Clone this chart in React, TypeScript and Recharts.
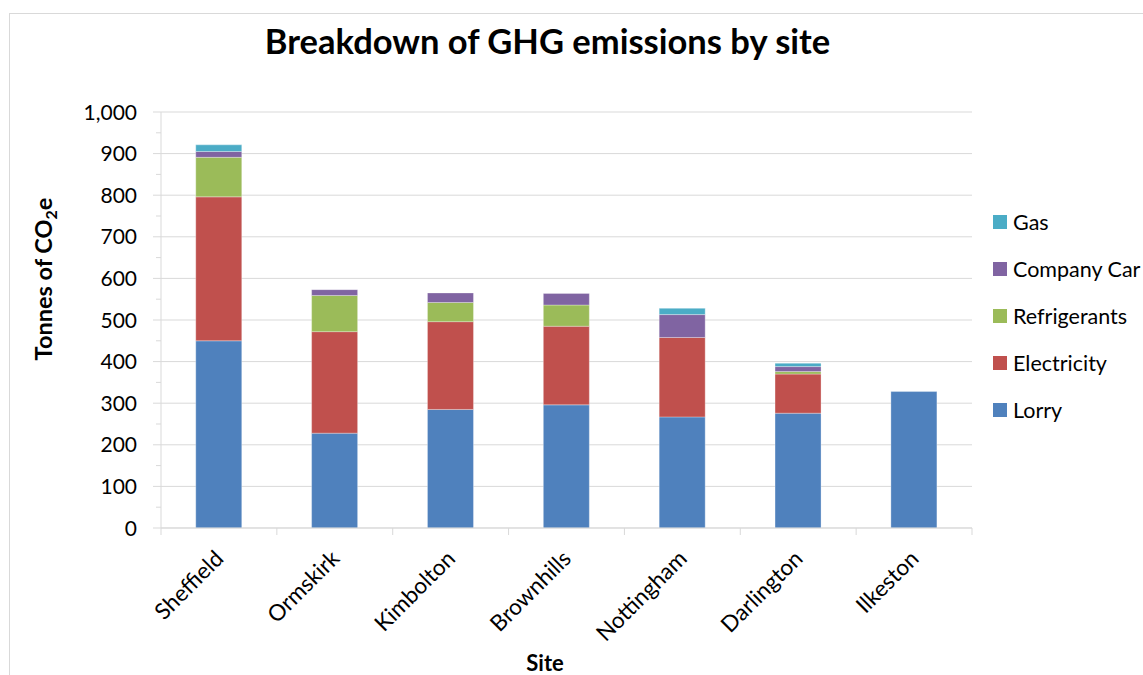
import { Bar, BarChart, CartesianGrid, XAxis, YAxis } from 'recharts';

const sites = ['Sheffield', 'Ormskirk', 'Kimbolton', 'Brownhills', 'Nottingham', 'Darlington', 'Ilkeston'];
const lorry = [450, 228, 285, 296, 267, 276, 328];
const electricity = [346, 244, 211, 189, 191, 94, 0];
const refrigerants = [95, 87, 46, 51, 0, 6, 0];
const companyCar = [14, 14, 23, 28, 55, 12, 0];
const gas = [16, 0, 0, 0, 15, 8, 0];

const yTicks = [0, 50, 100, 150, 200, 250, 300, 350, 400, 450, 500, 550, 600, 650, 700, 750, 800, 850, 900, 950, 1000];
const gridValues = [0, 100, 200, 300, 400, 500, 600, 700, 800, 900, 1000];

// bottom to top in the stack
const series = [
  { key: 'lorry', name: 'Lorry', color: '#4F81BD' },
  { key: 'electricity', name: 'Electricity', color: '#C0504D' },
  { key: 'refrigerants', name: 'Refrigerants', color: '#9BBB59' },
  { key: 'companyCar', name: 'Company Car', color: '#8064A2' },
  { key: 'gas', name: 'Gas', color: '#4BACC6' }
];

const data = sites.map((site, i) => ({
  site,
  lorry: lorry[i],
  electricity: electricity[i],
  refrigerants: refrigerants[i],
  companyCar: companyCar[i],
  gas: gas[i]
}));

const W = 1143;
const H = 675;
const FONT = 'Lato, "Open Sans", sans-serif';
const AXIS_GREY = '#d9d9d9';
const margin = { top: 112, right: 171, bottom: 47, left: 0 };
const yAxisWidth = 161;
const xAxisHeight = 100;
const plotWidth = W - margin.left - margin.right - yAxisWidth;

const fmt = new Intl.NumberFormat('en-US');

const YTick = ({ x, y, payload }: any) => {
  const v = payload.value as number;
  const major = v % 100 === 0;
  return (
    <g>
      <line x1={x - (major ? 8 : 5)} x2={x} y1={y} y2={y} stroke={AXIS_GREY} />
      {major && (
        <text x={x - 24} y={y} dy='0.36em' textAnchor='end' fontFamily={FONT} fontSize={21} fill='#000'>
          {fmt.format(v)}
        </text>
      )}
    </g>
  );
};

const XTick = ({ x, y, payload, index }: any) => {
  const step = plotWidth / sites.length;
  const left = x - step / 2;
  const tx = x + 6;
  const ty = y + 32;
  return (
    <g>
      <line x1={left} x2={left} y1={y} y2={y + 7} stroke={AXIS_GREY} />
      {index === sites.length - 1 && (
        <line x1={x + step / 2} x2={x + step / 2} y1={y} y2={y + 7} stroke={AXIS_GREY} />
      )}
      <text
        x={tx}
        y={ty}
        textAnchor='end'
        transform={`rotate(-45 ${tx} ${ty})`}
        fontFamily={FONT}
        fontSize={22.5}
        fill='#000'
      >
        {payload.value}
      </text>
    </g>
  );
};

const YLabel = () => (
  <text
    x={52}
    y={279}
    transform='rotate(-90 52 279)'
    textAnchor='middle'
    fontFamily={FONT}
    fontWeight={700}
    fontSize={23.5}
    fill='#000'
  >
    Tonnes of CO
    <tspan fontSize={16} dy={5}>2</tspan>
    <tspan dy={-5}>e</tspan>
  </text>
);

const XLabel = () => (
  <text x={545} y={671} textAnchor='middle' fontFamily={FONT} fontWeight={700} fontSize={22} fill='#000'>
    Site
  </text>
);

function App() {
  return (
    <div
      style={{
        position: 'absolute',
        left: 0,
        top: 0,
        width: W,
        height: H,
        overflow: 'hidden',
        background: '#fff'
      }}
    >
      <div
        style={{
          position: 'absolute',
          left: 9,
          top: 13,
          width: 1300,
          height: 900,
          border: `1px solid ${AXIS_GREY}`
        }}
      />
      <div
        style={{
          position: 'absolute',
          left: 0,
          width: 1095,
          top: 20,
          textAlign: 'center',
          fontFamily: FONT,
          fontWeight: 700,
          fontSize: 34.5,
          lineHeight: 'normal',
          color: '#000'
        }}
      >
        Breakdown of GHG emissions by site
      </div>

      <div style={{ position: 'absolute', left: 0, top: 0 }}>
        <BarChart width={W} height={H} data={data} margin={margin} barCategoryGap='30%'>
          <CartesianGrid vertical={false} stroke={AXIS_GREY} horizontalValues={gridValues} />
          <XAxis
            dataKey='site'
            height={xAxisHeight}
            interval={0}
            tickLine={false}
            tickSize={0}
            tickMargin={0}
            stroke={AXIS_GREY}
            tick={<XTick />}
            label={<XLabel />}
          />
          <YAxis
            width={yAxisWidth}
            domain={[0, 1000]}
            ticks={yTicks}
            interval={0}
            tickLine={false}
            tickSize={0}
            tickMargin={0}
            stroke={AXIS_GREY}
            tick={<YTick />}
            label={<YLabel />}
          />
          {series.map((s) => (
            <Bar
              key={s.key}
              dataKey={s.key}
              name={s.name}
              stackId='site'
              fill={s.color}
              stroke='#ffffff'
              strokeOpacity={0.3}
              isAnimationActive={false}
            />
          ))}
        </BarChart>
      </div>

      <div
        style={{
          position: 'absolute',
          left: 993,
          top: 198,
          display: 'flex',
          flexDirection: 'column',
          fontFamily: FONT,
          fontSize: 21.5,
          color: '#000'
        }}
      >
        {[...series].reverse().map((s) => (
          <div key={s.key} style={{ height: 47, display: 'flex', alignItems: 'center' }}>
            <span style={{ width: 14, height: 14, background: s.color, marginRight: 6, display: 'inline-block' }} />
            <span style={{ whiteSpace: 'nowrap' }}>{s.name}</span>
          </div>
        ))}
      </div>
    </div>
  );
}

export default App;
